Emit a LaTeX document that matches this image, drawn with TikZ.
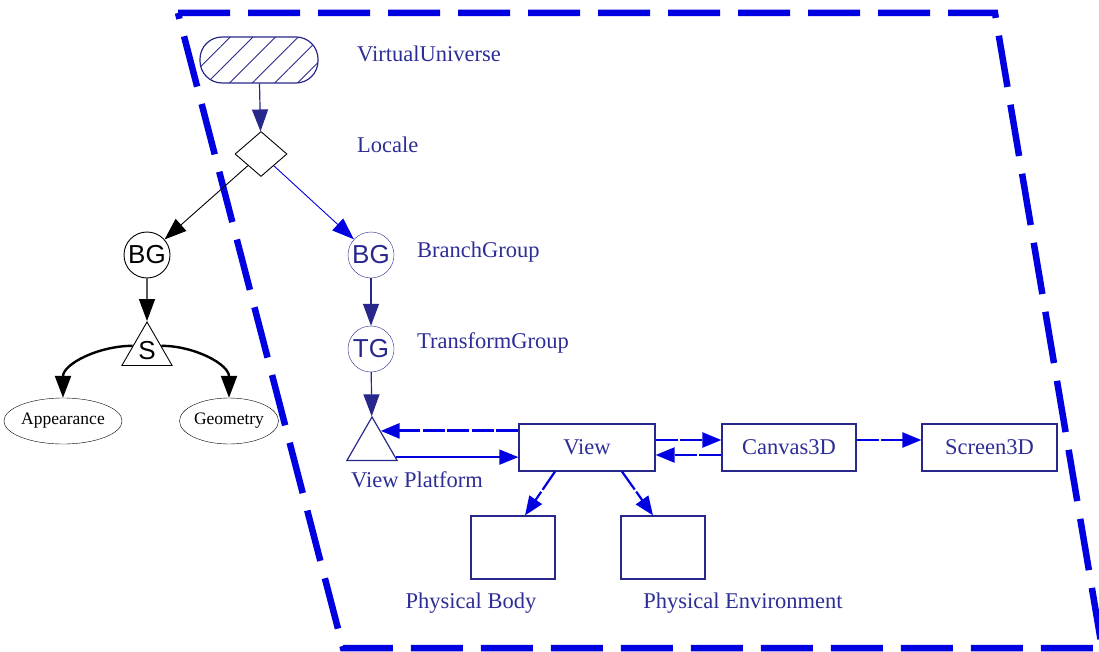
\documentclass[tikz,border=0pt]{standalone}
\usepackage{fontspec}
\setmainfont{Liberation Serif}
\setsansfont{Liberation Sans}
\usepackage{tikz}
\usetikzlibrary{shapes.geometric, arrows.meta, patterns.meta, positioning}
\definecolor{vjNavy}{RGB}{40, 40, 140}
\definecolor{vjBlue}{RGB}{0, 0, 225}
\definecolor{vjText}{RGB}{45, 45, 150}

\begin{document}
\begin{tikzpicture}[x=1pt, y=-1pt,
  label/.style={text=vjText, font=\fontsize{22.5}{26}\selectfont, inner sep=0pt},
  circ/.style={circle, draw, minimum size=46pt, inner sep=0pt,
               font=\sffamily\fontsize{26}{28}\selectfont},
  tri/.style={regular polygon, regular polygon sides=3, draw, minimum size=58pt,
              inner sep=0pt, font=\sffamily\fontsize{26}{28}\selectfont},
  leaf/.style={ellipse, draw, fill=white, minimum height=46pt, inner sep=0pt,
               font=\fontsize{17.5}{20}\selectfont},
  box/.style={rectangle, draw=vjNavy, line width=1.2pt, fill=white,
              minimum width=135pt, minimum height=47pt, inner sep=0pt,
              text=vjText, font=\fontsize{22.5}{26}\selectfont},
  tree/.style={-{Triangle[length=22pt, width=16pt]}, line width=1.2pt},
  link/.style={-{Triangle[length=19pt, width=15pt]}, vjBlue, line width=2.2pt,
               dash pattern=on 22pt off 2.5pt},
  border/.style={vjBlue, line width=6.5pt, dash pattern=on 52pt off 18pt},
]
  \useasboundingbox (0,0) rectangle (1099,652);

  % dashed frame round the view side
  \draw[border] (178,13) -- (995,13) -- (1102,648) -- (343,648) -- cycle;

  % scene graph root
  \node[rectangle, rounded corners=22pt, draw=vjNavy, line width=1.2pt,
        pattern={Lines[angle=45, distance=16pt, line width=0.9pt]}, pattern color=vjNavy,
        minimum width=118pt, minimum height=46pt] (vu) at (259,60) {};
  \node[label, anchor=base west] (vulab) at (357,62) {VirtualUniverse};
  \node[diamond, draw, line width=0.9pt, minimum width=52pt, minimum height=45pt,
        inner sep=0pt] (loc) at (261,154) {};
  \node[label, anchor=base west] (loclab) at (357,153) {Locale};
  \draw[tree, vjNavy] (vu) -- (loc);

  % content branch
  \node[circ, line width=0.9pt] (bgl) at (147,255) {BG};
  \node[tri, line width=0.9pt] (s) at (147,351) {S};
  \node[leaf, minimum width=104pt] (app) at (63,421) {Appearance};
  \node[leaf, minimum width=98pt] (geo) at (229,421) {Geometry};
  \draw[tree, line width=0.9pt] (loc) -- (bgl);
  \draw[tree] (bgl) -- (s);
  \draw[tree, line width=2.4pt] (s.160) to[out=180, in=90] (app.north);
  \draw[tree, line width=2.4pt] (s.20) to[out=0, in=90] (geo.north);

  % view branch
  \node[circ, draw=vjNavy, text=vjNavy] (bgr) at (371,255) {BG};
  \node[label, anchor=base west] (bglab) at (417,257) {BranchGroup};
  \node[circ, draw=vjNavy, text=vjNavy] (tg) at (371,349) {TG};
  \node[label, anchor=base west] (tglab) at (417,348) {TransformGroup};
  \node[tri, draw=vjNavy, line width=1.2pt] (vp) at (372,446) {};
  \node[label, anchor=base] (vplab) at (417,487) {View Platform};
  \draw[tree, vjBlue, line width=0.9pt] (loc) -- (bgr);
  \draw[tree, vjNavy] (bgr) -- (tg);
  \draw[tree, vjNavy] (tg) -- (vp);

  % view objects
  \node[box, minimum width=136pt] (view) at (587,447.5) {View};
  \node[box, minimum width=134pt] (canvas) at (789,447.5) {Canvas3D};
  \node[box] (screen) at (989.5,447.5) {Screen3D};
  \node[box, minimum width=84pt, minimum height=63pt] (pb) at (513,547.5) {};
  \node[box, minimum width=84pt, minimum height=63pt] (pe) at (663,547.5) {};
  \node[label, anchor=base] (pblab) at (471,608) {Physical Body};
  \node[label, anchor=base] (pelab) at (743,608) {Physical Environment};

  \draw[link, line width=3pt] (view.west |- vp.60) -- (vp.60);
  \draw[link, line width=1.4pt, solid] (vp.-25) -- (view.west |- vp.-25);
  \draw[link] ([yshift=7.5pt]view.east) -- ([yshift=7.5pt]canvas.west);
  \draw[link] ([yshift=-7.5pt]canvas.west) -- ([yshift=-7.5pt]view.east);
  \draw[link] ([yshift=7.5pt]canvas.east) -- ([yshift=7.5pt]screen.west);
  \draw[link] ([xshift=-32pt]view.south) -- ([xshift=12pt]pb.north);
  \draw[link] ([xshift=35pt]view.south) -- ([xshift=-10pt]pe.north);
\end{tikzpicture}
\end{document}
